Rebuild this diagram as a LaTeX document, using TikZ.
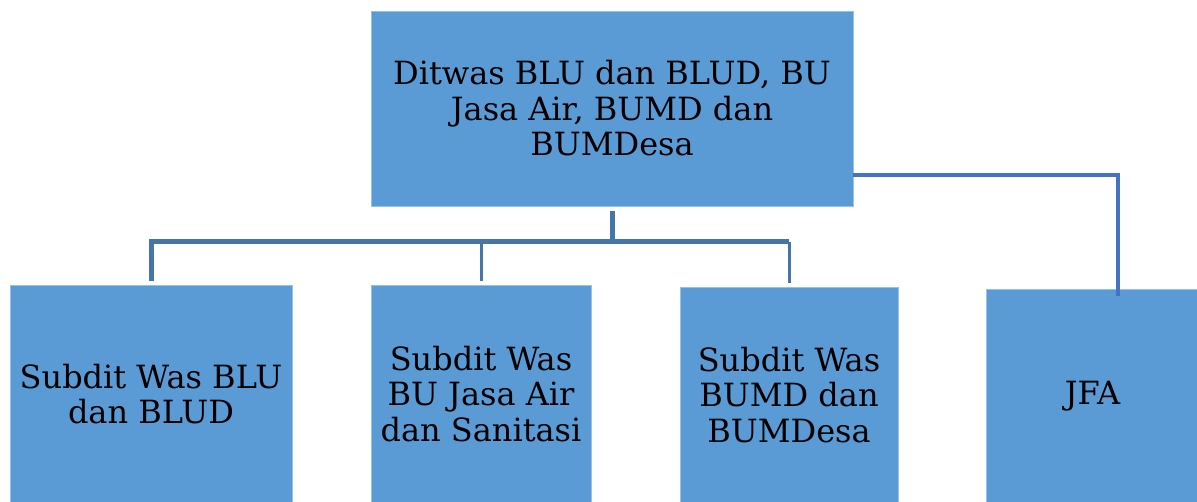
\documentclass[tikz,border=0pt]{standalone}
\usepackage{fontspec}
\setmainfont{DejaVu Serif}
\usepackage{xcolor}
\usepackage{tikz}
\usetikzlibrary{calc, positioning}
\definecolor{boxblue}{RGB}{91, 155, 213}
\definecolor{boxedge}{RGB}{150, 192, 232}
\definecolor{treeblue}{RGB}{68, 118, 168}
\definecolor{jfablue}{RGB}{68, 114, 196}
\tikzset{
    boxnode/.style = {draw=boxedge, line width=0.6pt, fill=boxblue, rectangle, inner sep=2pt,
      node distance=0em, font=\fontsize{32pt}{35.5pt}\selectfont},
    treeline/.style = {treeblue, line width=5pt},
    branchline/.style = {treeblue, line width=3pt},
    jfaline/.style = {jfablue, line width=4pt},
    every text node part/.style={align=center}
}

\begin{document}
\begin{tikzpicture}
\useasboundingbox (0,0) rectangle (1197pt,-501pt);

\node [boxnode, name=ditwas, minimum width=482pt, minimum height=195pt] at (612pt,-108.5pt) {Ditwas BLU dan BLUD, BU\\Jasa Air, BUMD dan\\BUMDesa};

\node [boxnode, name=subjasa, minimum width=220pt, minimum height=218pt, below of=ditwas, xshift=-131pt, yshift=-285.5pt] {Subdit Was\\BU Jasa Air\\dan Sanitasi};
\node [boxnode, name=subblu, minimum width=282pt, minimum height=218pt, left of=subjasa, xshift=-330pt] {Subdit Was BLU\\dan BLUD};
\node [boxnode, name=subbumd, minimum width=218pt, minimum height=216pt, right of=subjasa, xshift=308pt, yshift=-1pt] {Subdit Was\\BUMD dan\\BUMDesa};
\node [boxnode, name=jfa, minimum width=213pt, minimum height=214pt, right of=subbumd, xshift=303.5pt, yshift=-1pt] {JFA};

% tree below the head box
\coordinate (bus) at ($(ditwas.south)+(0,-35.5pt)$);
\draw [treeline, shorten <=5pt] (ditwas.south) -- (bus);
\draw [treeline, shorten <=4pt] (subblu.north) -- (subblu.north |- bus) -- (subbumd.north |- bus);
\draw [branchline, shorten >=4pt] (subjasa.north |- bus) -- (subjasa.north);
\draw [branchline, shorten >=4pt] (subbumd.north |- bus) -- (subbumd.north);

% side line to JFA
\coordinate (jfaknee) at (1118pt,-175pt);
\draw [jfaline, shorten >=-7pt] (ditwas.east |- jfaknee) -- (jfaknee) -- (jfaknee |- jfa.north);
\end{tikzpicture}
\end{document}
